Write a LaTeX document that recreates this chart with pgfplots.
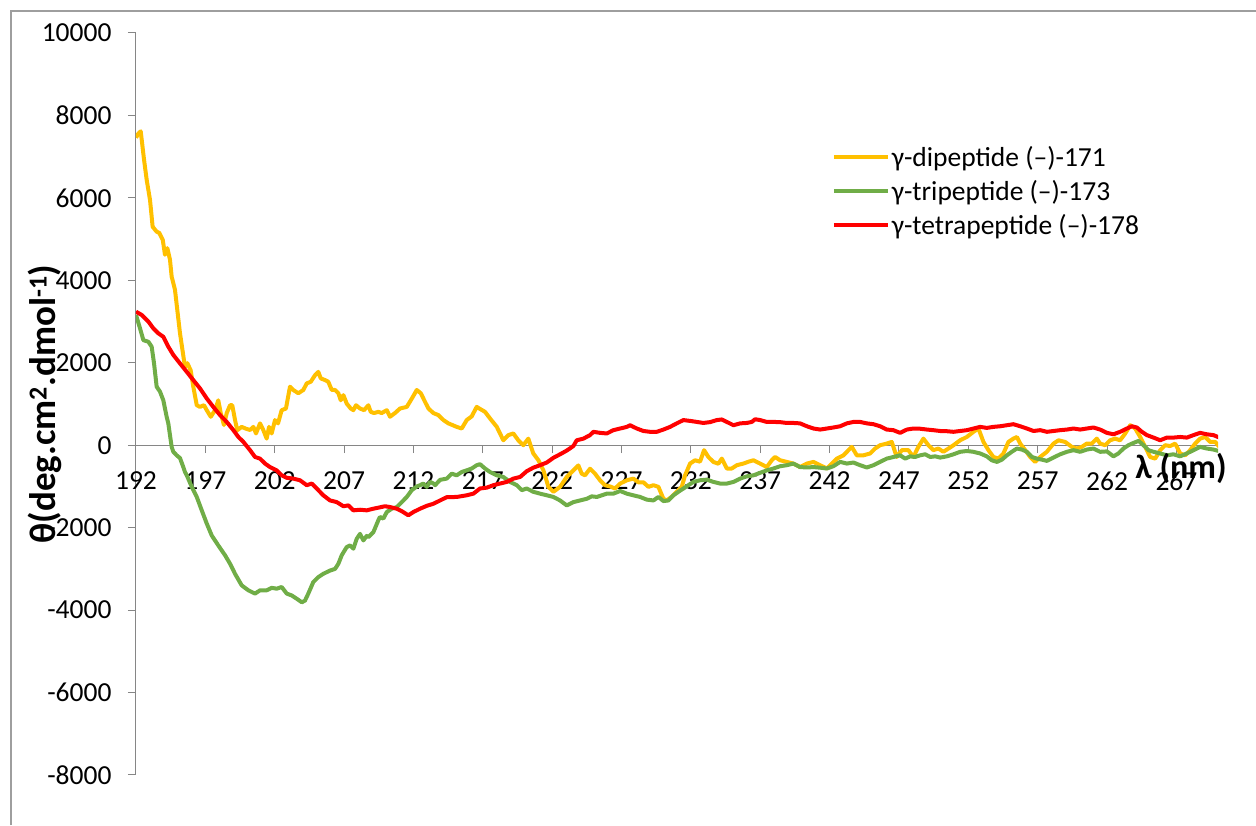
\documentclass[border=0pt]{standalone}
\usepackage{fontspec}
\setmainfont{Carlito}
\usepackage{pgfplots}
\pgfplotsset{compat=1.18}
\definecolor{cyel}{HTML}{FFC000}
\definecolor{cgrn}{HTML}{70AD47}
\definecolor{cred}{HTML}{FF0000}
\definecolor{axgray}{HTML}{868686}
\begin{document}
\begin{tikzpicture}
\useasboundingbox (0pt,0pt) rectangle (1256pt,825pt);
\draw[axgray!80, line width=1.2pt] (11pt,0pt) -- (11pt,814pt) -- (1256pt,814pt);
\begin{axis}[
  at={(136pt,50pt)}, anchor=south west,
  scale only axis, width=1082pt, height=742pt,
  xmin=192, xmax=270, ymin=-8000, ymax=10000,
  axis x line*=middle, axis y line*=left,
  hide obscured x ticks=false, hide obscured y ticks=false,
  scaled ticks=false,
  axis line style={axgray, line width=1pt},
  tick style={axgray, line width=1pt},
  tick align=outside, major tick length=8pt,
  xtick={192,197,202,207,212,217,222,227,232,237,242,247,252,257,262,267},
  xticklabels={192,197,202,207,212,217,222,227,232,237,242,247,252,257,262,267},
  ytick={-8000,-6000,-4000,-2000,0,2000,4000,6000,8000,10000},
  yticklabels={-8000,-6000,-4000,-2000,0,2000,4000,6000,8000,10000},
  tick label style={font=\fontsize{27.5}{32}\selectfont, text=black},
  xticklabel style={anchor=north, yshift=-15pt},
  yticklabel style={anchor=east, xshift=-13pt},
  legend style={draw=none, fill=none, inner sep=0pt, outer sep=0pt,
    at={(0.643,0.85)}, anchor=north west,
    font=\fontsize{27.5}{32}\selectfont,
    nodes={inner sep=2pt}, row sep=8.5pt},
  legend cell align=left,
  legend image code/.code={\draw[#1, line width=4pt] (0pt,0pt) -- (54pt,0pt);},
  every axis plot/.append style={line width=4pt, line join=round},
]
\addplot[cyel] table {
192.00 7460
192.15 7550
192.34 7615
192.45 7300
192.58 6925
192.77 6440
193.01 5950
193.20 5300
193.49 5180
193.68 5150
193.93 4980
194.09 4620
194.26 4780
194.45 4500
194.57 4090
194.81 3770
195.17 2720
195.53 1900
195.70 1990
195.94 1820
196.13 1420
196.38 970
196.61 930
196.90 970
197.10 850
197.39 690
197.70 850
197.93 1090
198.11 780
198.34 490
198.54 780
198.78 970
198.94 970
199.14 610
199.30 365
199.62 445
199.93 400
200.22 370
200.46 445
200.65 285
200.94 530
201.18 365
201.42 160
201.59 445
201.78 285
202.02 610
202.24 530
202.50 850
202.81 890
203.10 1420
203.34 1340
203.70 1260
204.06 1340
204.31 1500
204.60 1540
204.91 1700
205.14 1780
205.32 1620
205.63 1580
205.86 1540
206.11 1340
206.35 1340
206.59 1260
206.76 1090
206.95 1215
207.19 1010
207.48 890
207.67 850
207.86 970
208.15 890
208.44 850
208.75 970
208.92 810
209.16 780
209.47 810
209.71 780
210.08 850
210.31 690
210.67 780
211.03 890
211.52 930
211.88 1130
212.24 1340
212.53 1260
212.84 1050
213.08 890
213.44 780
213.80 730
214.16 610
214.52 530
215.12 445
215.48 405
215.84 610
216.20 700
216.56 930
216.80 880
217.16 810
217.52 650
218.01 445
218.48 120
218.84 245
219.20 285
219.56 120
219.92 0
220.28 160
220.64 -200
221.01 -365
221.37 -610
221.73 -1010
222.09 -1130
222.57 -1010
223.05 -770
223.53 -610
223.89 -490
224.13 -690
224.37 -730
224.73 -570
225.09 -690
225.45 -850
225.81 -970
226.17 -1000
226.53 -1050
226.90 -930
227.38 -850
227.85 -810
228.22 -900
228.58 -900
228.94 -1010
229.30 -970
229.66 -1010
230.02 -1300
230.26 -1340
230.62 -1250
230.98 -1130
231.34 -1010
231.58 -730
231.94 -445
232.30 -365
232.66 -400
232.95 -120
233.26 -285
233.62 -405
233.98 -450
234.23 -325
234.59 -565
234.95 -565
235.31 -485
235.79 -445
236.15 -400
236.51 -365
236.99 -445
237.47 -530
237.83 -365
238.07 -285
238.43 -365
238.91 -405
239.39 -445
239.87 -530
240.36 -445
240.84 -405
241.32 -485
241.80 -565
242.16 -445
242.52 -325
243.00 -245
243.36 -120
243.60 -40
243.96 -245
244.44 -245
244.92 -200
245.28 -80
245.64 0
246.12 40
246.48 80
246.84 -285
247.21 -120
247.68 -120
248.04 -285
248.40 -40
248.76 160
249.12 0
249.48 -120
249.84 -80
250.20 -160
250.57 -80
250.93 0
251.41 120
251.89 200
252.37 325
252.73 405
253.09 80
253.45 -120
253.81 -285
254.17 -325
254.53 -200
254.89 80
255.25 160
255.50 200
255.74 40
256.10 -120
256.46 -285
256.82 -405
257.18 -285
257.66 -160
258.14 40
258.50 120
258.98 80
259.46 -40
259.82 -80
260.18 -40
260.54 40
260.90 40
261.26 160
261.50 40
261.86 0
262.22 120
262.58 160
262.94 120
263.31 285
263.67 485
264.03 405
264.39 200
264.75 -40
265.11 -285
265.47 -325
265.83 -120
266.19 0
266.55 -20
266.91 40
267.27 -200
267.63 -245
267.99 -120
268.35 40
268.71 160
269.07 200
269.43 80
269.80 80
270.10 -40
};
\addlegendentry{γ-dipeptide (–)-171}
\addplot[cgrn] table {
192.00 3160
192.29 2835
192.53 2550
192.89 2510
193.13 2390
193.30 1985
193.49 1420
193.73 1300
193.97 1090
194.21 690
194.33 530
194.45 245
194.57 -40
194.69 -160
194.81 -200
194.93 -245
195.17 -310
195.41 -530
195.53 -650
195.66 -730
196.02 -1010
196.38 -1255
196.74 -1580
197.10 -1900
197.46 -2190
197.93 -2430
198.42 -2670
198.78 -2875
199.14 -3120
199.62 -3400
200.10 -3520
200.58 -3600
200.94 -3520
201.42 -3520
201.78 -3460
202.14 -3480
202.50 -3440
202.87 -3600
203.23 -3645
203.59 -3725
203.95 -3810
204.18 -3770
204.42 -3600
204.78 -3320
205.14 -3200
205.50 -3120
205.99 -3040
206.35 -3000
206.59 -2875
206.83 -2670
207.19 -2470
207.43 -2430
207.67 -2510
207.91 -2270
208.15 -2150
208.39 -2310
208.63 -2200
208.75 -2230
209.11 -2110
209.47 -1820
209.59 -1740
209.83 -1780
210.08 -1620
210.44 -1540
210.80 -1500
211.16 -1380
211.52 -1255
211.88 -1090
212.24 -1000
212.48 -970
212.71 -930
212.96 -1010
213.20 -890
213.44 -930
213.56 -970
213.92 -840
214.40 -810
214.76 -690
215.12 -730
215.48 -650
215.84 -610
216.20 -565
216.56 -485
216.80 -460
217.16 -565
217.52 -650
218.01 -730
218.48 -770
218.96 -890
219.45 -970
219.81 -1090
220.17 -1050
220.64 -1130
221.13 -1175
221.61 -1215
222.09 -1255
222.57 -1340
223.05 -1460
223.53 -1380
224.01 -1340
224.49 -1300
224.85 -1240
225.22 -1255
225.58 -1215
225.94 -1175
226.41 -1175
226.90 -1110
227.38 -1175
227.85 -1215
228.34 -1255
228.82 -1320
229.30 -1340
229.66 -1255
230.02 -1355
230.38 -1340
230.74 -1215
231.10 -1130
231.46 -1050
231.82 -970
232.18 -890
232.66 -850
233.15 -835
233.62 -890
234.11 -930
234.59 -930
235.07 -890
235.55 -810
236.03 -755
236.51 -730
236.99 -670
237.47 -610
237.95 -565
238.43 -510
238.91 -485
239.39 -445
239.87 -530
240.36 -540
240.84 -530
241.32 -545
241.80 -565
242.27 -510
242.76 -405
243.24 -445
243.72 -420
244.20 -485
244.68 -540
245.16 -485
245.64 -405
246.12 -325
246.60 -285
247.08 -245
247.45 -325
247.81 -270
248.16 -285
248.53 -245
248.89 -220
249.25 -285
249.61 -270
249.97 -300
250.45 -270
250.93 -220
251.41 -160
251.89 -140
252.37 -160
252.85 -200
253.33 -270
253.69 -365
254.06 -405
254.42 -350
254.78 -245
255.13 -160
255.50 -80
255.86 -105
256.22 -160
256.58 -285
256.94 -325
257.30 -350
257.66 -380
258.14 -300
258.62 -220
259.11 -160
259.58 -120
260.06 -160
260.54 -105
261.02 -80
261.50 -160
261.99 -150
262.46 -270
262.82 -200
263.18 -80
263.54 0
263.90 55
264.27 105
264.63 0
264.99 -120
265.35 -160
265.83 -200
266.31 -245
266.79 -220
267.27 -270
267.75 -200
268.23 -120
268.71 -40
269.19 -80
269.67 -105
270.10 -145
};
\addlegendentry{γ-tripeptide (–)-173}
\addplot[cred] table {
192.00 3240
192.41 3160
192.89 3000
193.25 2835
193.61 2715
193.97 2630
194.33 2390
194.69 2190
195.17 1985
195.66 1780
196.13 1580
196.61 1380
197.10 1135
197.57 930
198.06 730
198.54 565
199.02 365
199.38 200
199.74 80
200.22 -120
200.58 -285
200.94 -325
201.30 -445
201.66 -530
202.14 -610
202.50 -730
202.87 -790
203.34 -810
203.82 -850
204.31 -970
204.67 -930
205.03 -1050
205.50 -1215
205.99 -1340
206.47 -1380
206.95 -1480
207.31 -1460
207.67 -1580
208.15 -1565
208.63 -1580
209.11 -1540
209.47 -1515
209.95 -1480
210.31 -1500
210.80 -1540
211.16 -1600
211.63 -1700
212.00 -1620
212.48 -1540
212.96 -1470
213.44 -1420
213.92 -1340
214.40 -1260
215.12 -1255
215.84 -1215
216.32 -1175
216.80 -1050
217.28 -1030
217.76 -970
218.24 -930
218.73 -890
219.20 -810
219.69 -770
220.17 -630
220.64 -545
221.13 -485
221.61 -420
222.09 -305
222.57 -220
223.05 -130
223.53 -20
223.77 120
224.25 160
224.73 245
224.97 325
225.45 300
225.94 285
226.41 365
226.90 405
227.38 445
227.62 485
228.10 405
228.58 345
229.06 325
229.54 325
230.02 380
230.50 445
230.98 530
231.46 610
231.94 590
232.43 565
232.90 540
233.38 560
233.87 610
234.23 625
234.59 565
235.07 485
235.55 530
236.03 540
236.39 565
236.63 630
236.99 610
237.47 565
237.95 565
238.43 560
238.91 540
239.39 540
239.87 530
240.36 460
240.84 405
241.32 380
241.80 405
242.27 430
242.76 460
243.24 530
243.72 565
244.20 565
244.68 530
245.16 510
245.64 460
246.12 380
246.60 365
247.08 300
247.57 380
248.04 405
248.53 400
249.01 380
249.48 365
249.97 345
250.45 340
250.93 325
251.41 345
251.89 365
252.37 405
252.85 445
253.33 420
253.81 445
254.29 460
254.78 485
255.25 510
255.74 460
256.22 405
256.70 345
257.18 365
257.66 325
258.14 345
258.62 365
259.11 380
259.58 405
260.06 380
260.54 405
261.02 430
261.50 380
261.99 300
262.46 265
262.94 325
263.43 405
263.79 460
264.15 430
264.51 325
264.87 245
265.35 185
265.83 120
266.31 185
266.79 185
267.27 200
267.75 185
268.23 245
268.71 300
269.19 265
269.67 245
270.10 185
};
\addlegendentry{γ-tetrapeptide (–)-178}
\end{axis}
\node[rotate=90, font=\fontsize{37}{40}\selectfont\bfseries] at (45pt,421pt) {θ(deg.cm\textsuperscript{2}.dmol\textsuperscript{-1})};
\node[font=\fontsize{34}{38}\selectfont\bfseries] at (1181pt,357pt) {λ (nm)};
\end{tikzpicture}
\end{document}
